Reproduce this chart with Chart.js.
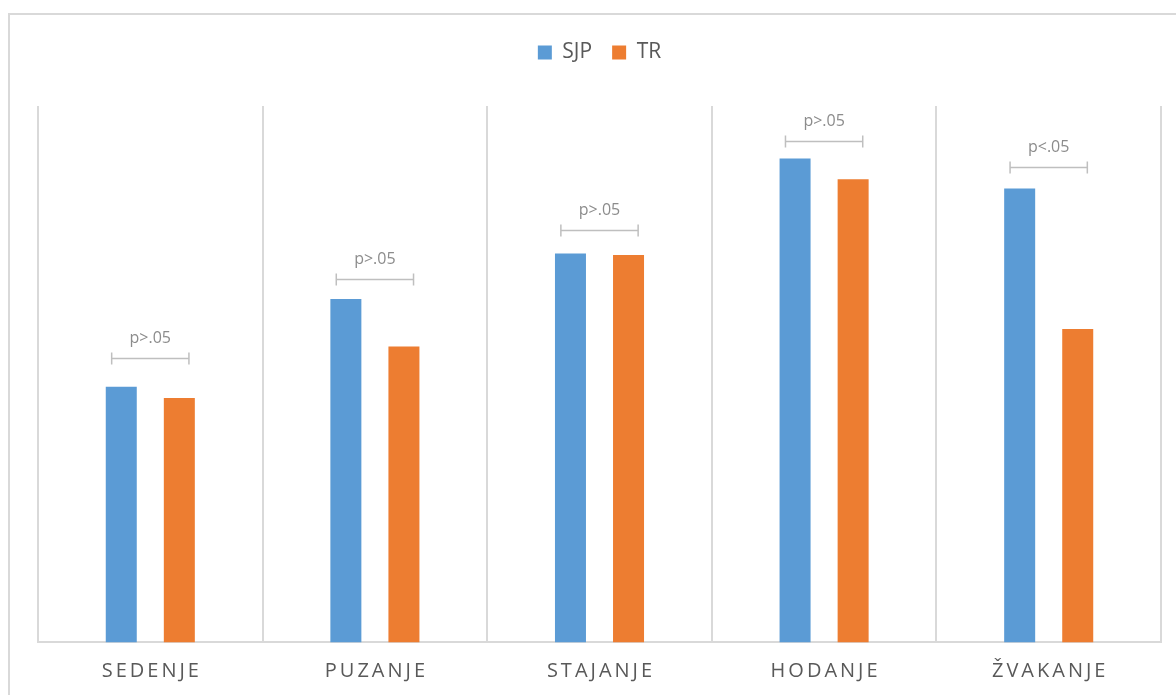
<!DOCTYPE html>
<html lang="sr">
<head>
    <meta charset="UTF-8">
    <title>SJP / TR</title>
    <script src="https://cdn.jsdelivr.net/npm/chart.js"></script>
    <style>
        html, body { margin: 0; padding: 0; background: #fff; }
        #wrap { width: 1176px; height: 695px; position: relative; }
    </style>
</head>
<body>
<div id="wrap"><canvas id="milestones"></canvas></div>
<script>
const categories = ['SEDENJE', 'PUZANJE', 'STAJANJE', 'HODANJE', 'ŽVAKANJE'];
const sjpValues = [6.67, 8.96, 10.15, 12.63, 11.85];
const trValues = [6.38, 7.72, 10.11, 12.09, 8.18];
const pLabels = ['p>.05', 'p>.05', 'p>.05', 'p>.05', 'p<.05'];
const bracketLevels = [7.43, 9.49, 10.77, 13.09, 12.41];

const GREY = '#d9d9d9';
const TEXT = '#595959';

// outer frame around the whole chart
const framePlugin = {
    id: 'frame',
    beforeDraw(chart) {
        const ctx = chart.ctx;
        ctx.save();
        ctx.strokeStyle = GREY;
        ctx.lineWidth = 2;
        ctx.strokeRect(9, 14, 1300, 800);
        ctx.restore();
    }
};

// extra gap between legend and plot
const legendGap = {
    id: 'legendGap',
    beforeInit(chart) {
        const fit = chart.legend.fit;
        chart.legend.fit = function () {
            fit.call(this);
            this.height += 33;
        };
    }
};

// significance brackets plus spaced category labels
const annotatePlugin = {
    id: 'annotate',
    afterDraw(chart) {
        const ctx = chart.ctx;
        const x = chart.scales.x;
        const y = chart.scales.y;
        const step = x.getPixelForValue(1) - x.getPixelForValue(0);
        ctx.save();
        categories.forEach((cat, i) => {
            const cx = x.getPixelForValue(i);
            const by = Math.round(y.getPixelForValue(bracketLevels[i])) + 0.5;
            const half = step * 0.172;
            ctx.strokeStyle = '#bfbfbf';
            ctx.lineWidth = 1.5;
            ctx.beginPath();
            ctx.moveTo(cx - half, by);
            ctx.lineTo(cx + half, by);
            ctx.moveTo(cx - half, by - 6);
            ctx.lineTo(cx - half, by + 6);
            ctx.moveTo(cx + half, by - 6);
            ctx.lineTo(cx + half, by + 6);
            ctx.stroke();

            ctx.fillStyle = '#8c8c8c';
            ctx.font = '16px "Open Sans"';
            ctx.textAlign = 'center';
            ctx.textBaseline = 'middle';
            ctx.letterSpacing = '0px';
            ctx.fillText(pLabels[i], cx, by - 20);

            ctx.fillStyle = TEXT;
            ctx.font = '20px "Open Sans"';
            ctx.letterSpacing = '3px';
            ctx.fillText(cat, cx + 1.5, 671);
        });
        ctx.restore();
    }
};

new Chart(document.getElementById('milestones'), {
    type: 'bar',
    data: {
        labels: categories,
        datasets: [
            { label: 'SJP', data: sjpValues, backgroundColor: '#5b9bd5' },
            { label: 'TR', data: trValues, backgroundColor: '#ed7d31' }
        ]
    },
    options: {
        responsive: true,
        maintainAspectRatio: false,
        animation: false,
        categoryPercentage: 0.517,
        barPercentage: 0.534,
        layout: { padding: { left: 38, right: 15, top: 22, bottom: 17 } },
        plugins: {
            legend: {
                position: 'top',
                labels: {
                    boxWidth: 14,
                    boxHeight: 14,
                    padding: 20,
                    color: TEXT,
                    font: { family: 'Open Sans', size: 21 }
                }
            },
            tooltip: { enabled: false }
        },
        scales: {
            x: {
                grid: { color: GREY, lineWidth: 2, drawTicks: false, offset: true },
                border: { color: GREY, width: 2 },
                ticks: { color: 'rgba(0,0,0,0)', padding: 7, font: { family: 'Open Sans', size: 18 } }
            },
            y: {
                display: false,
                min: 0,
                max: 14
            }
        }
    },
    plugins: [framePlugin, legendGap, annotatePlugin]
});
</script>
</body>
</html>
